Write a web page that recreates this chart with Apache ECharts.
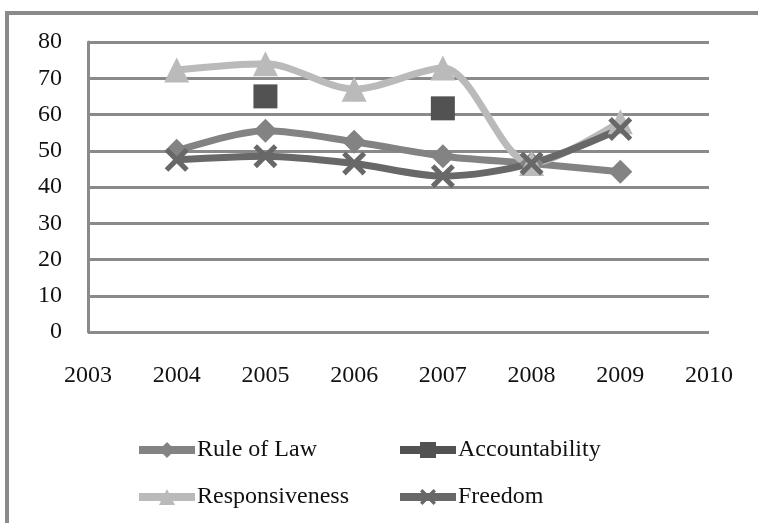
<!DOCTYPE html>
<html>
<head>
<meta charset="utf-8">
<script src="https://cdn.jsdelivr.net/npm/echarts@6/dist/echarts.min.js"></script>
<style>
  html, body { margin: 0; padding: 0; background: #fff; }
  #chart { width: 758px; height: 523px; }
</style>
</head>
<body>
<div id="chart"></div>
<script>
// data
var years = [2004, 2005, 2006, 2007, 2008, 2009];
var ruleOfLaw = [50, 55.5, 52.5, 48.5, 46.5, 44.2];
var accountability = [null, 65, null, 61.7, null, null];
var responsiveness = [72.3, 74, 67, 72.8, 46.5, 58];
var freedom = [47.5, 48.5, 46.5, 43, 46.5, 56];

var fontName = '"Liberation Serif", "DejaVu Serif", serif';
var gridGray = '#8a8a8a';
// thick cross marker
var xMark = 'path://M3,0 L10,7 L17,0 L20,3 L13,10 L20,17 L17,20 L10,13 L3,20 L0,17 L7,10 L0,3 Z';

function pairs(vals) {
    return years.map(function(y, i) {
        return [y, vals[i] == null ? '-' : vals[i]];
    });
}

function makeSeries(name, vals, color, symbol, size) {
    return {
        name: name,
        type: 'line',
        data: pairs(vals),
        smooth: 0.3,
        symbol: symbol,
        symbolSize: size,
        connectNulls: false,
        lineStyle: { color: color, width: 7 },
        itemStyle: { color: color },
        emphasis: { disabled: true }
    };
}

function legendAt(name, left, top) {
    return {
        data: [name],
        left: left,
        top: top,
        itemWidth: 56,
        itemHeight: 20,
        itemGap: 0,
        selectedMode: false,
        lineStyle: { width: 8 },
        textStyle: { fontFamily: fontName, fontSize: 24, color: '#111', padding: [0, 0, 0, -3] }
    };
}

var myChart = echarts.init(document.getElementById('chart'));

var option = {
    animation: false,
    backgroundColor: '#fff',
    grid: { left: 88, right: 49, top: 42, bottom: 191 },
    xAxis: {
        type: 'value',
        min: 2003,
        max: 2010,
        interval: 1,
        axisLine: { show: false },
        axisTick: { show: false },
        splitLine: { show: false },
        axisLabel: {
            margin: 32, fontFamily: fontName, fontSize: 24, color: '#111',
            formatter: function(v) { return String(v); }
        }
    },
    yAxis: {
        type: 'value',
        min: 0,
        max: 80,
        interval: 10,
        axisLine: { show: true, lineStyle: { color: gridGray, width: 3 } },
        axisTick: { show: false },
        splitLine: { show: true, lineStyle: { color: gridGray, width: 3 } },
        axisLabel: { margin: 26, fontFamily: fontName, fontSize: 24, color: '#111' }
    },
    legend: [
        legendAt('Rule of Law', 130, 433),
        legendAt('Accountability', 391, 433),
        legendAt('Responsiveness', 130, 480),
        legendAt('Freedom', 391, 480)
    ],
    graphic: [{
        type: 'polyline',
        shape: { points: [[7, 523], [7, 13], [758, 13]] },
        style: { stroke: gridGray, lineWidth: 4, fill: null }
    }],
    series: [
        makeSeries('Rule of Law', ruleOfLaw, '#838383', 'diamond', 24),
        makeSeries('Accountability', accountability, '#525252', 'rect', 24),
        makeSeries('Responsiveness', responsiveness, '#bababa', 'triangle', 25),
        makeSeries('Freedom', freedom, '#686868', xMark, 24)
    ]
};

myChart.setOption(option);
</script>
</body>
</html>
